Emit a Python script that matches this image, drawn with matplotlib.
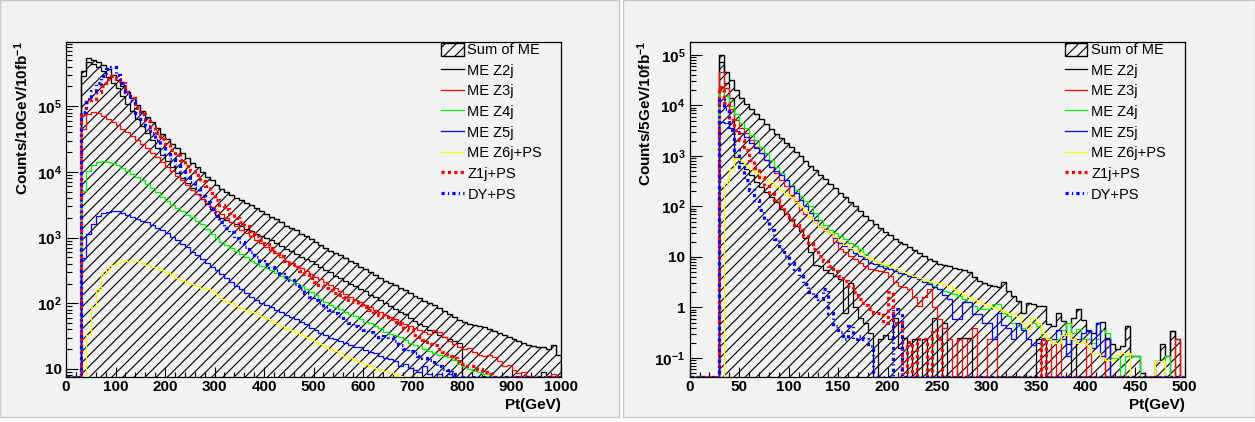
import numpy as np
import matplotlib
matplotlib.use('Agg')
import matplotlib.pyplot as plt
from matplotlib.patches import Patch, Rectangle
from matplotlib.lines import Line2D
from matplotlib.ticker import LogLocator, FixedLocator, FuncFormatter, MultipleLocator, NullFormatter

plt.rcParams['font.family'] = ['Liberation Sans', 'DejaVu Sans']
plt.rcParams['font.weight'] = 'bold'
plt.rcParams['mathtext.fontset'] = 'custom'
plt.rcParams['mathtext.rm'] = 'Liberation Sans'
plt.rcParams['mathtext.bf'] = 'Liberation Sans:bold'
plt.rcParams['mathtext.default'] = 'bf'
plt.rcParams['hatch.linewidth'] = 0.8

# ---- left panel: 10 GeV bins, values are log10(counts), first bin 30-40 GeV (None = empty bin)
left_edges = np.arange(0, 1010, 10)
left_lead = 3
left_sum = [5.54, 5.73, 5.71, 5.68, 5.63, 5.56, 5.48, 5.40, 5.31, 5.21,
            5.12, 5.02, 4.93, 4.84, 4.76, 4.67, 4.58, 4.50, 4.43, 4.36,
            4.29, 4.21, 4.14, 4.07, 4.00, 3.93, 3.87, 3.80, 3.74, 3.70,
            3.65, 3.61, 3.57, 3.53, 3.49, 3.45, 3.40, 3.36, 3.32, 3.28,
            3.23, 3.18, 3.15, 3.11, 3.06, 3.02, 2.98, 2.93, 2.88, 2.84,
            2.80, 2.76, 2.73, 2.69, 2.65, 2.61, 2.56, 2.52, 2.47, 2.43,
            2.38, 2.34, 2.31, 2.28, 2.24, 2.20, 2.15, 2.11, 2.08, 2.04,
            2.00, 1.97, 1.93, 1.88, 1.83, 1.79, 1.74, 1.71, 1.69, 1.67,
            1.66, 1.64, 1.61, 1.58, 1.55, 1.52, 1.49, 1.45, 1.42, 1.40,
            1.37, 1.35, 1.33, 1.34, 1.31, 1.36, 1.21]
left_z2 = [5.46, 5.67, 5.64, 5.60, 5.53, 5.45, 5.36, 5.27, 5.16, 5.04,
           4.93, 4.81, 4.70, 4.59, 4.48, 4.37, 4.26, 4.16, 4.08, 3.99,
           3.91, 3.83, 3.75, 3.67, 3.59, 3.51, 3.43, 3.35, 3.30, 3.27,
           3.23, 3.20, 3.17, 3.13, 3.10, 3.06, 3.03, 3.00, 2.96, 2.92,
           2.87, 2.82, 2.79, 2.75, 2.71, 2.67, 2.64, 2.60, 2.55, 2.51,
           2.47, 2.42, 2.39, 2.34, 2.30, 2.26, 2.22, 2.18, 2.13, 2.09,
           2.05, 2.01, 1.96, 1.92, 1.87, 1.83, 1.78, 1.73, 1.69, 1.65,
           1.60, 1.56, 1.52, 1.48, 1.45, 1.42, 1.39, None, None, None,
           None, None, None, None, None, None, None, None, None, None,
           None, None, None, 0.95, None, None, None]
left_z3 = [4.66, 4.88, 4.91, 4.89, 4.85, 4.81, 4.76, 4.71, 4.66, 4.61,
           4.55, 4.49, 4.42, 4.36, 4.29, 4.22, 4.15, 4.08, 4.01, 3.94,
           3.87, 3.80, 3.73, 3.66, 3.59, 3.53, 3.47, 3.41, 3.36, 3.30,
           3.24, 3.18, 3.12, 3.07, 3.02, 2.97, 2.92, 2.86, 2.81, 2.76,
           2.71, 2.65, 2.61, 2.57, 2.54, 2.49, 2.45, 2.40, 2.37, 2.32,
           2.28, 2.23, 2.19, 2.14, 2.10, 2.05, 2.02, 1.98, 1.94, 1.90,
           1.86, 1.82, 1.79, 1.76, 1.72, 1.69, 1.66, 1.62, 1.60, 1.56,
           1.54, 1.60, 1.57, 1.48, 1.42, 1.38, 1.33, 1.30, 1.32, 1.26,
           1.22, 1.20, 1.21, 1.18, 1.12, 1.04, 1.06, 0.98, 0.94, 0.95,
           0.90, None, None, None, 0.90, 0.92, None]
left_z4 = [3.71, 4.01, 4.10, 4.15, 4.16, 4.15, 4.13, 4.10, 4.06, 4.01,
           3.97, 3.92, 3.87, 3.82, 3.75, 3.69, 3.62, 3.56, 3.50, 3.45,
           3.40, 3.35, 3.31, 3.26, 3.20, 3.13, 3.06, 2.99, 2.93, 2.88,
           2.84, 2.80, 2.75, 2.70, 2.65, 2.61, 2.57, 2.53, 2.50, 2.46,
           2.42, 2.38, 2.35, 2.31, 2.27, 2.22, 2.17, 2.12, 2.06, 2.02,
           1.98, 1.94, 1.91, 1.87, 1.83, 1.80, 1.76, 1.72, 1.70, 1.66,
           1.62, 1.57, 1.54, 1.51, 1.48, 1.44, 1.40, 1.37, 1.35, 1.31,
           1.28, 1.24, 1.22, 1.20, 1.19, 1.14, 1.08, 1.04, 1.00, 0.97,
           0.96, 0.93, 0.92, None, None, None, None, None, None, None,
           None, None, None, None, None, None, None]
left_z5 = [2.69, 3.05, 3.21, 3.33, 3.37, 3.39, 3.40, 3.40, 3.38, 3.35,
           3.32, 3.29, 3.26, 3.23, 3.19, 3.15, 3.11, 3.07, 3.01, 2.96,
           2.91, 2.85, 2.78, 2.73, 2.67, 2.61, 2.55, 2.50, 2.44, 2.38,
           2.33, 2.27, 2.21, 2.15, 2.10, 2.05, 2.01, 1.98, 1.94, 1.90,
           1.86, 1.82, 1.79, 1.76, 1.72, 1.68, 1.63, 1.59, 1.55, 1.52,
           1.47, 1.46, 1.43, 1.40, 1.37, 1.34, 1.33, 1.29, 1.26, 1.24,
           1.20, 1.17, 1.15, 1.12, 1.05, 1.08, 1.01, 0.99, 0.95, 1.04,
           0.92, None, 0.93, None, 0.92, 0.90, None, None, None, None,
           None, None, None, None, None, None, None, None, None, None,
           None, None, None, None, None, None, None]
left_z6 = [None, 1.52, 1.95, 2.21, 2.44, 2.54, 2.59, 2.62, 2.64, 2.65,
           2.65, 2.64, 2.61, 2.59, 2.56, 2.53, 2.51, 2.47, 2.43, 2.39,
           2.36, 2.32, 2.29, 2.27, 2.24, 2.21, 2.18, 2.14, 2.06, 2.03,
           2.00, 1.96, 1.93, 1.90, 1.87, 1.86, 1.81, 1.78, 1.74, 1.70,
           1.66, 1.63, 1.59, 1.56, 1.52, 1.49, 1.45, 1.41, 1.38, 1.33,
           1.30, 1.27, 1.24, 1.20, 1.17, 1.14, 1.10, 1.08, 1.05, 1.02,
           0.99, 0.97, 0.96, 0.93, 0.90, None, None, None, None, None,
           None, None, None, None, None, None, None, None, None, None,
           None, None, None, None, None, None, None, None, None, None,
           None, None, None, None, None, None, None]
left_z1ps = [4.90, 5.06, 5.11, 5.21, 5.31, 5.41, 5.46, 5.42, 5.36, 5.22,
             5.13, 4.98, 4.88, 4.78, 4.68, 4.59, 4.50, 4.42, 4.34, 4.26,
             4.18, 4.09, 4.02, 3.95, 3.86, 3.78, 3.68, 3.58, 3.50, 3.43,
             3.37, 3.30, 3.24, 3.17, 3.10, 3.02, 2.96, 2.90, 2.84, 2.78,
             2.72, 2.65, 2.60, 2.55, 2.49, 2.44, 2.39, 2.33, 2.28, 2.24,
             2.20, 2.16, 2.13, 2.09, 2.05, 2.02, 1.98, 1.95, 1.90, 1.86,
             1.82, 1.79, 1.76, 1.72, 1.68, 1.63, 1.59, 1.52, 1.48, 1.44,
             1.38, 1.36, 1.30, 1.26, 1.20, 1.16, 1.12, 1.08, 1.05, 1.04,
             1.00, 0.96, 0.92, None, None, None, None, None, None, None,
             None, None, None, None, None, None, None]
left_dyps = [4.91, 5.11, 5.23, 5.36, 5.46, 5.56, 5.59, 5.47, 5.36, 5.22,
             5.08, 4.90, 4.80, 4.70, 4.60, 4.48, 4.37, 4.28, 4.19, 4.10,
             4.02, 3.93, 3.84, 3.75, 3.64, 3.54, 3.44, 3.33, 3.23, 3.15,
             3.08, 3.00, 2.93, 2.86, 2.78, 2.71, 2.65, 2.60, 2.55, 2.50,
             2.45, 2.40, 2.35, 2.29, 2.22, 2.16, 2.10, 2.05, 2.00, 1.95,
             1.90, 1.85, 1.80, 1.75, 1.70, 1.65, 1.62, 1.60, 1.57, 1.52,
             1.46, 1.50, 1.48, 1.42, 1.36, 1.30, 1.27, 1.24, 1.20, 1.17,
             1.14, 1.10, 1.05, 1.00, 0.98, 0.93, None, None, None, None,
             None, None, None, None, None, None, None, None, None, None,
             None, None, None, None, None, None, None]

# ---- right panel: 5 GeV bins, log10(counts), first bin 30-35 GeV
right_edges = np.arange(0, 505, 5)
right_lead = 6
right_sum = [5.00, 4.67, 4.51, 4.31, 4.14, 4.03, 3.93, 3.83, 3.73, 3.63,
             3.54, 3.44, 3.35, 3.26, 3.17, 3.08, 2.99, 2.90, 2.81, 2.72,
             2.63, 2.54, 2.45, 2.36, 2.27, 2.18, 2.09, 2.00, 1.91, 1.82,
             1.73, 1.65, 1.58, 1.50, 1.43, 1.36, 1.30, 1.25, 1.19, 1.13,
             1.07, 1.01, 0.96, 0.92, 0.87, 0.84, 0.82, 0.78, 0.76, 0.74,
             0.70, 0.60, 0.52, 0.48, 0.45, 0.42, 0.40, 0.50, 0.32, 0.22,
             0.12, -0.10, 0.09, 0.06, 0.03, 0.03, -0.33, -0.37, -0.10, -0.27,
             -0.73, -0.20, -0.04, -0.24, -0.47, -0.50, -0.30, -0.29, -0.60, -0.73,
             -0.83, -0.76, -0.37, -0.96, -0.96, -1.30, None, None, -1.06, -0.73,
             -0.96, -0.47, -0.62, None]
right_z2 = [4.85, 4.45, 4.15, 2.98, 2.85, 2.75, 2.62, 2.48, 2.38, 2.28,
            2.18, 2.08, 1.95, 1.85, 1.74, 1.62, 1.52, 1.38, 1.10, 0.85,
            0.82, 0.75, 0.68, 0.62, 0.56, -0.10, 0.49, 0.00, -0.20, -0.30,
            -0.50, None, -0.62, -0.55, -0.62, -0.20, -0.80, -0.60, None, -0.62,
            None, -0.62, None, -0.20, None, -0.30, None, None, -0.60, -0.60,
            -0.60, None, None, None, None, None, None, None, None, None,
            None, None, None, None, -0.62, -0.62, None, None, None, None,
            None, -0.62, None, None, None, None, None, None, -0.62, None,
            None, None, None, None, None, None, None, None, None, None,
            None, -0.47, None, None]
right_z3 = [4.67, 4.34, 3.92, 3.72, 3.55, 3.45, 3.32, 3.18, 3.06, 2.92,
            2.79, 2.66, 2.53, 2.40, 2.23, 2.10, 1.93, 1.86, 1.80, 1.70,
            1.61, 1.55, 1.47, 1.30, 1.15, 1.10, 1.02, 0.95, 0.89, 0.82,
            0.76, 0.74, 0.72, 0.70, 0.63, 0.50, 0.43, 0.40, 0.36, 0.20,
            0.03, 0.20, 0.36, 0.00, -0.23, -0.40, -0.63, None, -0.63, None,
            -0.63, -0.40, None, None, -0.63, -0.63, None, None, None, None,
            None, None, None, None, None, -0.63, -0.63, None, -0.63, None,
            None, None, None, None, -0.63, None, None, None, -0.63, None,
            None, None, None, None, None, None, None, None, None, None,
            None, None, -0.62, None]
right_z4 = [4.28, 4.18, 3.99, 3.82, 3.65, 3.55, 3.42, 3.32, 3.18, 3.05,
            2.92, 2.79, 2.66, 2.53, 2.43, 2.32, 2.20, 2.10, 2.00, 1.87,
            1.74, 1.64, 1.54, 1.47, 1.41, 1.35, 1.28, 1.21, 1.15, 1.05,
            0.95, 0.92, 0.89, 0.82, 0.76, 0.72, 0.69, 0.66, 0.63, 0.61,
            0.59, 0.55, 0.49, 0.42, 0.36, 0.33, 0.30, 0.26, 0.23, 0.16,
            0.10, 0.03, -0.03, -0.03, -0.03, 0.07, 0.07, -0.10, -0.16, -0.30,
            -0.36, -0.40, -0.43, -0.30, -0.36, -0.60, -0.63, -0.70, -0.63, -0.45,
            -0.30, -0.50, -0.43, -0.62, -0.62, -0.70, -0.63, -0.45, -0.50, -1.00,
            -1.00, None, -0.96, -0.96, -0.96, None, None, None, None, None,
            -0.96, None, None, None]
right_z5 = [3.68, 3.65, 3.55, 3.49, 3.45, 3.38, 3.25, 3.15, 3.06, 2.92,
            2.79, 2.70, 2.63, 2.52, 2.40, 2.26, 2.13, 2.00, 1.87, 1.74,
            1.61, 1.54, 1.47, 1.38, 1.28, 1.22, 1.15, 1.08, 1.02, 0.95,
            0.89, 0.86, 0.82, 0.79, 0.76, 0.72, 0.69, 0.66, 0.63, 0.60,
            0.56, 0.50, 0.46, 0.40, 0.36, 0.25, 0.16, -0.23, -0.23, 0.10,
            0.10, -0.13, -0.13, -0.30, -0.30, -0.63, -0.10, -0.35, -0.40, -0.63,
            -0.30, -0.45, -0.63, -0.75, -0.70, -0.63, -0.63, -0.63, -0.45, -0.63,
            -0.96, -0.63, -0.63, -0.50, -0.45, -0.80, -0.30, -0.96, -0.63, None,
            None, None, None, None, None, None, None, None, None, None,
            None, None, None, None]
right_z6 = [None, 2.47, 2.75, 2.95, 2.89, 2.82, 2.75, 2.68, 2.61, 2.55,
            2.48, 2.41, 2.33, 2.25, 2.18, 2.08, 2.00, 1.90, 1.80, 1.70,
            1.61, 1.54, 1.47, 1.39, 1.31, 1.24, 1.18, 1.13, 1.08, 1.01,
            0.95, 0.92, 0.89, 0.86, 0.82, 0.78, 0.73, 0.70, 0.66, 0.62,
            0.59, 0.55, 0.52, 0.50, 0.49, 0.46, 0.43, 0.36, 0.30, 0.25,
            0.20, 0.14, 0.10, 0.07, 0.03, 0.00, -0.03, -0.08, -0.10, -0.13,
            -0.16, -0.30, -0.43, -0.20, -0.30, -0.50, -0.63, -0.70, -0.70, -0.55,
            -0.50, -0.63, -0.70, -0.70, -0.75, -0.90, -0.90, -1.00, -1.05, -1.05,
            -0.95, -0.90, -0.90, None, None, None, None, None, -1.06, -1.06,
            None, None, None, None]
right_z1ps = [4.37, 4.04, 3.72, 3.52, 3.32, 3.12, 2.92, 2.76, 2.59, 2.40,
              2.26, 2.13, 2.00, 1.87, 1.74, 1.64, 1.54, 1.41, 1.28, 1.15,
              1.02, 0.92, 0.82, 0.72, 0.63, 0.53, 0.43, 0.30, 0.16, 0.05,
              -0.03, -0.10, -0.10, -0.30, 0.30, -0.30, -0.30, None, -0.69, None,
              -0.63, -0.63, None, -0.45, -0.63, None, None, None, None, None,
              None, None, None, None, None, None, None, None, None, None,
              None, None, None, None, None, -0.63, None, None, None, None,
              None, None, None, None, None, None, None, None, None, None,
              None, None, None, None, None, None, None, None, None, None,
              None, None, None, None]
right_dyps = [4.11, 3.92, 3.52, 3.12, 2.79, 2.53, 2.33, 2.13, 1.93, 1.74,
              1.54, 1.35, 1.15, 1.02, 0.89, 0.76, 0.63, 0.46, 0.30, 0.23,
              0.16, 0.36, -0.10, -0.36, -0.49, -0.63, -0.36, -0.63, -0.56, -0.63,
              -0.76, None, None, None, None, -0.03, -0.10, None, None, None,
              None, None, None, None, None, None, None, None, None, None,
              None, None, None, None, None, None, None, None, None, None,
              None, None, None, None, None, None, None, None, None, None,
              None, None, None, None, None, None, None, None, None, None,
              None, None, None, None, None, None, None, None, None, None,
              None, None, None, None]

labels = ['Sum of ME', 'ME Z2j', 'ME Z3j', 'ME Z4j', 'ME Z5j', 'ME Z6j+PS', 'Z1j+PS', 'DY+PS']
left_yticks = [10, 1e2, 1e3, 1e4, 1e5]
right_yticks = [0.1, 1, 10, 1e2, 1e3, 1e4, 1e5]


def counts(logs, n_lead, floor):
    v = np.array([0.0] * n_lead + [10.0 ** x if x is not None else 0.0 for x in logs])
    v[v <= 0] = floor  # empty bins sit on the bottom of the frame, like ROOT
    return v


def log_label(v, pos):
    e = int(round(np.log10(v)))
    if e == 0:
        return '1'
    if e == 1:
        return '10'
    return r'$10^{%d}$' % e


line_styles = [
    dict(color='black', lw=0.9, ls='-'),
    dict(color='#ff0000', lw=0.9, ls='-'),
    dict(color='#00ee00', lw=0.9, ls='-'),
    dict(color='#0000ff', lw=0.9, ls='-'),
    dict(color='#ffff00', lw=0.9, ls='-'),
    dict(color='#ff0000', lw=2.3, ls=(0, (1.0, 1.0))),
    dict(color='#0000ff', lw=2.3, ls=(0, (1.0, 1.0, 0.4, 1.0))),
]


def draw_panel(ax, edges, n_lead, ylo, yhi, yticks, xmax, xmajor, xminor, series):
    total = counts(series[0], n_lead, ylo)
    ax.stairs(total, edges, fill=True, facecolor='none', edgecolor='black',
              hatch='///', lw=1.0, baseline=ylo, zorder=2)
    for s, st in zip(series[1:], line_styles):
        ax.stairs(counts(s, n_lead, ylo), edges, baseline=None, zorder=3, **st)
    ax.set_yscale('log')
    ax.set_xlim(0, xmax)
    ax.set_ylim(ylo, yhi)
    ax.set_facecolor('#f2f2f2')
    ax.yaxis.set_major_locator(FixedLocator(yticks))
    ax.yaxis.set_minor_locator(LogLocator(base=10, subs=np.arange(2, 10), numticks=20))
    ax.yaxis.set_major_formatter(FuncFormatter(log_label))
    ax.yaxis.set_minor_formatter(NullFormatter())
    ax.xaxis.set_major_locator(MultipleLocator(xmajor))
    ax.xaxis.set_minor_locator(MultipleLocator(xminor))
    ax.tick_params(which='both', direction='in', top=False, right=False, width=0.8)
    ax.tick_params(axis='y', which='major', length=8.5, labelsize=11, pad=3)
    ax.tick_params(axis='y', which='minor', length=4.5)
    ax.tick_params(axis='x', which='major', length=7, labelsize=11, pad=2)
    ax.tick_params(axis='x', which='minor', length=3.5)
    for sp in ax.spines.values():
        sp.set_linewidth(0.9)
    handles = [Patch(facecolor='none', edgecolor='black', hatch='///', lw=1.0)]
    handles += [Line2D([], [], **st) for st in line_styles]
    ax.legend(handles, labels, loc='upper left', bbox_to_anchor=(0.758, 0.998),
              frameon=False, prop={'size': 10.5, 'weight': 'normal'},
              handlelength=1.55, handleheight=1.0, handletextpad=0.25,
              labelspacing=0.42, borderaxespad=0, borderpad=0)


fig = plt.figure(figsize=(12.55, 4.22), dpi=100)
fig.patch.set_facecolor('white')
W, H = 1255.0, 422.0
fig.patches.append(Rectangle((0, 1 - 417 / H), 619 / W, 417 / H, transform=fig.transFigure,
                             facecolor='#f2f2f2', edgecolor='#c8c8c8', lw=1, zorder=-5))
fig.patches.append(Rectangle((623 / W, 1 - 417 / H), (1255 - 623) / W, 417 / H, transform=fig.transFigure,
                             facecolor='#f2f2f2', edgecolor='#c8c8c8', lw=1, zorder=-5))

ax1 = fig.add_axes([66 / W, 1 - 377 / H, 495 / W, 335 / H])
ax2 = fig.add_axes([689.6 / W, 1 - 377 / H, 495 / W, 335 / H])

draw_panel(ax1, left_edges, left_lead, 7.55, 9.5e5, left_yticks, 1000, 100, 20,
           [left_sum, left_z2, left_z3, left_z4, left_z5, left_z6, left_z1ps, left_dyps])
draw_panel(ax2, right_edges, right_lead, 0.042, 1.8e5, right_yticks, 500, 50, 10,
           [right_sum, right_z2, right_z3, right_z4, right_z5, right_z6, right_z1ps, right_dyps])

fig.text(561 / W, 1 - 405 / H, 'Pt(GeV)', ha='right', va='center', fontsize=11)
fig.text(1184.6 / W, 1 - 405 / H, 'Pt(GeV)', ha='right', va='center', fontsize=11)
fig.text(22 / W, 1 - 41 / H, r'Counts/10GeV/10fb$^{-1}$', rotation=90, ha='center', va='top', fontsize=11)
fig.text(645 / W, 1 - 41 / H, r'Counts/5GeV/10fb$^{-1}$', rotation=90, ha='center', va='top', fontsize=11)

fig.savefig('out.png', dpi=100, facecolor=fig.get_facecolor())
